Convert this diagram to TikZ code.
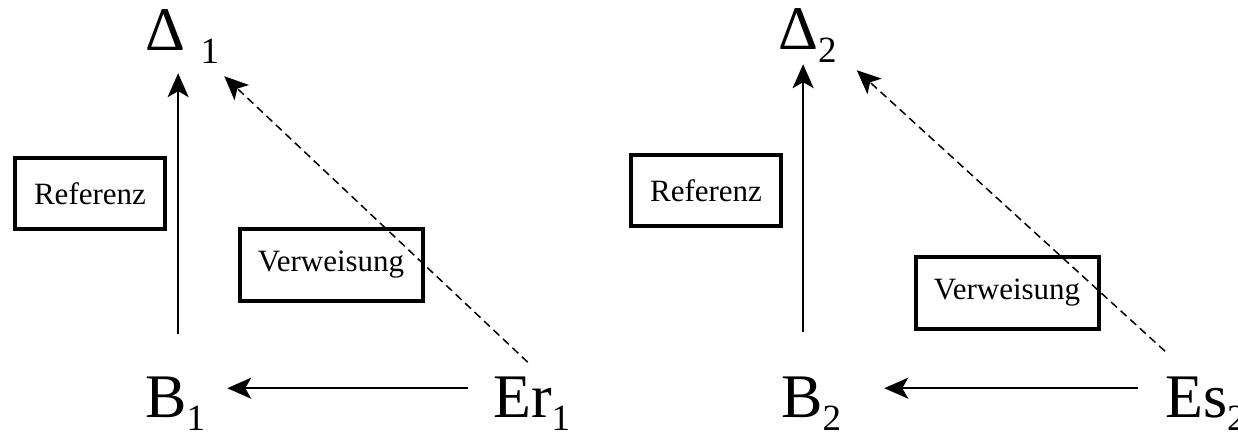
\documentclass[tikz,border=0pt]{standalone}
\usepackage{fontspec}
\setmainfont{Liberation Serif}
\newfontfamily\tms{Liberation Serif}
\usetikzlibrary{arrows.meta}
\newcommand{\sub}[1]{\raisebox{-13pt}{\fontsize{37}{40}\selectfont #1}}
\begin{document}
\begin{tikzpicture}[x=1pt,y=-1pt,
    sym/.style={anchor=base west,inner sep=0pt,font=\tms\fontsize{62}{70}\selectfont},
    box/.style={draw,line width=4pt,minimum height=71pt,font=\tms\fontsize{31}{36}\selectfont},
    ref/.style={-{Stealth[length=24pt,width=21pt,inset=6pt]},line width=2pt},
    verw/.style={-{Stealth[length=24pt,width=21pt,inset=6pt]},line width=1.5pt,dash pattern=on 8pt off 5pt}]
    \useasboundingbox (0,0) rectangle (1238,435);
    % erstes Dreieck
    \node[sym] (D1) at (145,51) {Δ \sub{1}};
    \node[sym] (B1) at (145,417) {B\sub{1}};
    \node[sym] (Er1) at (493,417) {Er\sub{1}};
    \node[box,minimum width=150pt] (R1) at (90,194) {Referenz};
    \node[box,minimum width=183pt] (V1) at (331,265) {Verweisung};
    \draw[ref,shorten <=42pt,shorten >=9pt] ([xshift=3pt]B1.north) -- ([xshift=3pt]B1.north |- D1.south);
    \draw[ref,shorten <=25pt,shorten >=22pt] ([yshift=15pt]Er1.west) -- ([yshift=15pt]B1.east);
    \draw[verw] ([xshift=-4pt,yshift=14pt]Er1.north) -- ([xshift=5pt,yshift=-12pt]D1.south east);
    % zweites Dreieck
    \node[sym] (D2) at (778,50) {Δ\sub{2}};
    \node[sym] (B2) at (781,417) {B\sub{2}};
    \node[sym] (Es2) at (1165,417) {Es\sub{2}};
    \node[box,minimum width=150pt] (R2) at (706,191) {Referenz};
    \node[box,minimum width=183pt] (V2) at (1007,293) {Verweisung};
    \draw[ref,shorten <=44pt,shorten >=1pt] ([xshift=-8pt]B2.north) -- ([xshift=-8pt]B2.north |- D2.south);
    \draw[ref,shorten <=27pt,shorten >=43pt] ([yshift=15pt]Es2.west) -- ([yshift=15pt]B2.east);
    \draw[verw] ([yshift=25pt]Es2.north west) -- ([xshift=20pt,yshift=-7pt]D2.south east);
\end{tikzpicture}
\end{document}
